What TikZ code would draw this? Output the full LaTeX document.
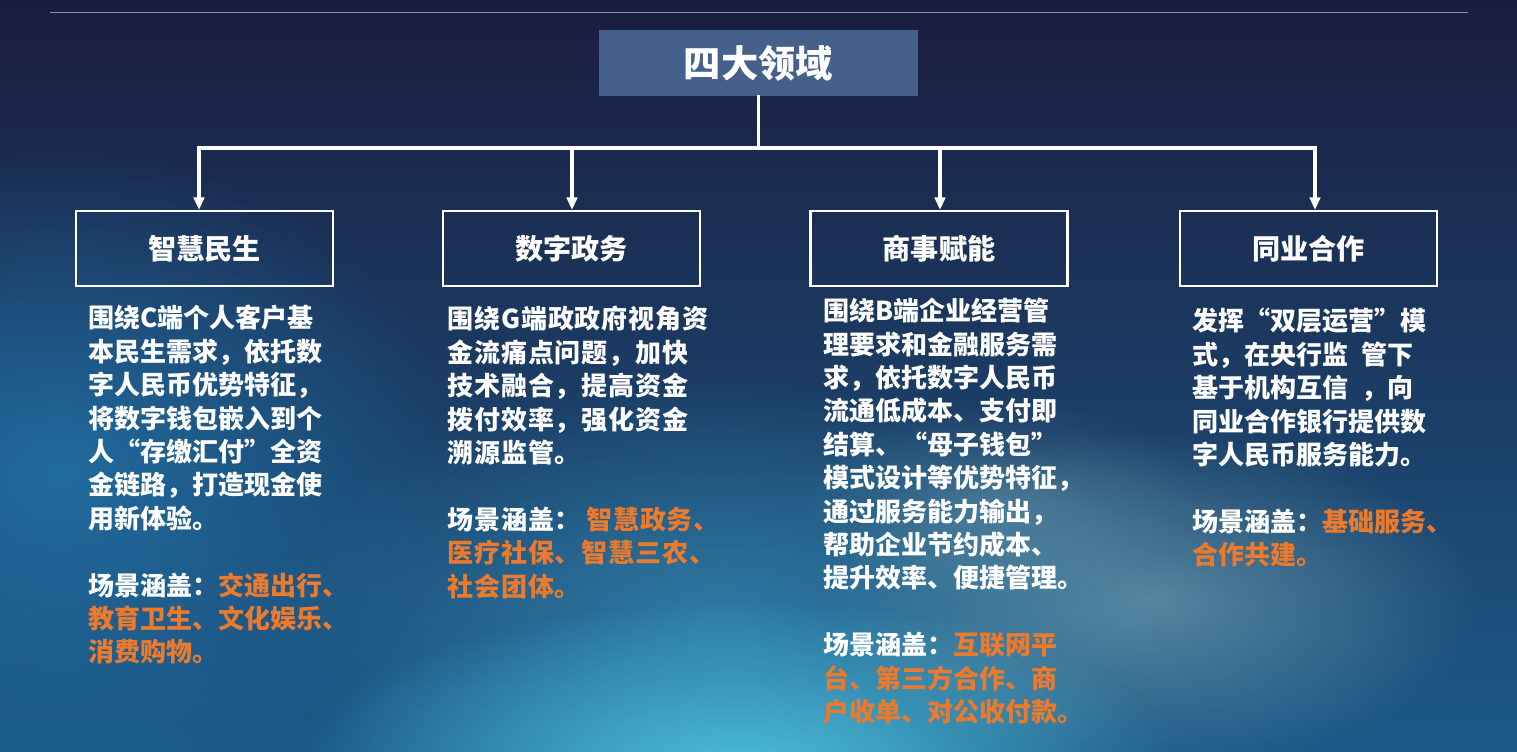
\documentclass[tikz,border=0pt]{standalone}
\usepackage{fontspec}
\newfontfamily\cjk{Noto Sans CJK SC}
\usetikzlibrary{arrows.meta,fadings}

\definecolor{navytop}{HTML}{1A1D3F}
\definecolor{navymid}{HTML}{163762}
\definecolor{navybot}{HTML}{1C5A88}
\definecolor{leftglow}{HTML}{2378AE}
\definecolor{midglow}{HTML}{3A98C0}
\definecolor{lowglow}{HTML}{4EC3DE}
\definecolor{cloud}{HTML}{9CCBCE}
\definecolor{titleblue}{HTML}{46608C}
\definecolor{rule}{HTML}{8A90A8}
\definecolor{scene}{HTML}{EA7A2E}

\tikzfading[name=glow, inner color=transparent!0, outer color=transparent!100]

\tikzset{
  link/.style={white, line width=2.4pt, line cap=rect},
  linkarrow/.style={link, -{Triangle[width=7.5pt,length=9pt]}},
  fieldbox/.style={draw=white, line width=1.5pt, inner sep=0pt,
    minimum width=6.425cm, minimum height=1.875cm, text=white,
    font=\cjk\bfseries\fontsize{20}{24}\selectfont},
  bodytext/.style={anchor=north west, inner sep=0pt, align=left, text=white,
    font=\cjk\bfseries\fontsize{18.5}{23.75}\selectfont},
}

\begin{document}
\begin{tikzpicture}[x=0.025cm, y=-0.025cm]
  \useasboundingbox (0,0) rectangle (1517,751);
  % background
  \fill[top color=navytop, middle color=navymid, bottom color=navybot] (0,0) rectangle (1517,751);
  \fill[leftglow, opacity=0.75, path fading=glow] (60,470) ellipse [x radius=400, y radius=320];
  \fill[midglow, opacity=0.6, path fading=glow] (720,620) ellipse [x radius=450, y radius=240];
  \fill[lowglow, opacity=0.95, path fading=glow] (740,770) ellipse [x radius=440, y radius=170];
  \fill[cloud, opacity=0.45, path fading=glow] (1150,600) ellipse [x radius=330, y radius=170];
  \fill[cloud, opacity=0.25, path fading=glow] (1000,500) ellipse [x radius=200, y radius=100];
  \draw[rule, line width=0.7pt] (50,12) -- (1468,12);

  % title and fields
  \node[fill=titleblue, inner sep=0pt, minimum width=7.975cm, minimum height=1.65cm,
    text=white, font=\cjk\bfseries\fontsize{26.5}{30}\selectfont] (lingyu) at (758.5,63) {四大领域};
  \node[fieldbox] (minsheng) at (204.5,248.5) {智慧民生};
  \node[fieldbox] (zhengwu) at (571.5,248.5) {数字政务};
  \node[fieldbox] (shangshi) at (939,248.5) {商事赋能};
  \node[fieldbox] (tongye) at (1308.5,248.5) {同业合作};

  % connectors
  \coordinate (bus) at (758.5,148);
  \coordinate (d1) at (199,148);
  \coordinate (d2) at (572,148);
  \coordinate (d3) at (940,148);
  \coordinate (d4) at (1315,148);
  \draw[link] (lingyu.south) -- (bus);
  \draw[link] (d1) -- (d4);
  \draw[linkarrow] (d1) -- (d1 |- minsheng.north);
  \draw[linkarrow] (d2) -- (d2 |- zhengwu.north);
  \draw[linkarrow] (d3) -- (d3 |- shangshi.north);
  \draw[linkarrow] (d4) -- (d4 |- tongye.north);

  % texts
  \node[bodytext] (minshengtxt) at (88,305) {围绕C端个人客户基\\本民生需求，依托数\\字人民币优势特征，\\将数字钱包嵌入到个\\人“存缴汇付”全资\\金链路，打造现金使\\用新体验。\\[23.75pt]
    场景涵盖：\textcolor{scene}{交通出行、}\\\textcolor{scene}{教育卫生、文化娱乐、}\\\textcolor{scene}{消费购物。}};
  \node[bodytext, font=\cjk\bfseries\fontsize{18.5}{23.75}\selectfont\addfontfeature{LetterSpace=3.5}] (zhengwutxt) at (447,306) {围绕G端政政府视角资\\金流痛点问题，加快\\技术融合，提高资金\\拨付效率，强化资金\\溯源监管。\\[23.75pt]
    场景涵盖：\hspace{0.2em}\textcolor{scene}{智慧政务、}\\\textcolor{scene}{医疗社保、智慧三农、}\\\textcolor{scene}{社会团体。}};
  \node[bodytext] (shangshitxt) at (823,298) {围绕B端企业经营管\\理要求和金融服务需\\求，依托数字人民币\\流通低成本、支付即\\结算、“母子钱包”\\模式设计等优势特征，\\通过服务能力输出，\\帮助企业节约成本、\\提升效率、便捷管理。\\[23.75pt]
    场景涵盖：\textcolor{scene}{互联网平}\\\textcolor{scene}{台、第三方合作、商}\\\textcolor{scene}{户收单、对公收付款。}};
  \node[bodytext] (tongyetxt) at (1192,308) {发挥“双层运营”模\\式，在央行监\hspace{0.5em}管下\\基于机构互信\hspace{0.5em}，向\\同业合作银行提供数\\字人民币服务能力。\\[23.75pt]
    场景涵盖：\textcolor{scene}{基础服务、}\\\textcolor{scene}{合作共建。}};
\end{tikzpicture}
\end{document}
